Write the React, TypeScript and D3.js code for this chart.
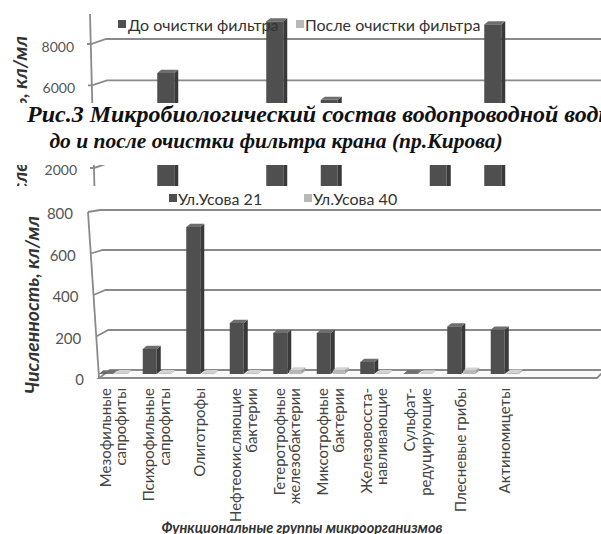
import React from 'react';
import * as d3 from 'd3';

// functional groups of microorganisms (x categories, split into label lines)
const groups = [
  ['Мезофильные', 'сапрофиты'],
  ['Психрофильные', 'сапрофиты'],
  ['Олиготрофы'],
  ['Нефтеокисляющие', 'бактерии'],
  ['Гетеротрофные', 'железобактерии'],
  ['Миксотрофные', 'бактерии'],
  ['Железовосста-', 'навливающие'],
  ['Сульфат-', 'редуцирующие'],
  ['Плесневые грибы'],
  ['Актиномицеты'],
];
const categories = groups.map((g) => g.join(' '));

// main chart: Ул.Усова 21 / Ул.Усова 40, кл/мл
const usova21 = [3, 125, 735, 255, 205, 205, 60, 3, 238, 222];
const usova40 = [4, 4, 4, 4, 18, 18, 4, 3, 16, 6];
const mainTicks = [0, 200, 400, 600, 800];

// chart behind (Рис.3), before / after the tap filter; the 4000 tick is under the caption
const beforeFilter = [400, 6500, 700, 9000, 5200, 600, 3500, 8850, 700, 500];
const afterFilter = [40, 120, 30, 200, 100, 20, 80, 150, 30, 20];
const topTicks = [2000, 6000, 8000];

const SANS = 'Lato, "Open Sans", sans-serif';
const SERIF = '"Liberation Serif", "Times New Roman", serif';
const GRID = '#8a8a8a';
const DARK = { front: '#4f4f4f', top: '#6e6e6e', side: '#393939' };
const LIGHT = { front: '#b8b8b8', top: '#d2d2d2', side: '#a0a0a0' };

type BarProps = {
  x: number;
  w: number;
  yTop: number;
  yBase: number;
  depth: number;
  fills: { front: string; top: string; side: string };
};

const Bar3D = ({ x, w, yTop, yBase, depth, fills }: BarProps) => {
  const dx = depth;
  const dy = depth * 0.8;
  return (
    <g>
      <polygon
        points={`${x + w},${yTop} ${x + w + dx},${yTop - dy} ${x + w + dx},${yBase - dy} ${x + w},${yBase}`}
        fill={fills.side}
      />
      <polygon
        points={`${x},${yTop} ${x + dx},${yTop - dy} ${x + w + dx},${yTop - dy} ${x + w},${yTop}`}
        fill={fills.top}
      />
      <rect x={x} y={yTop} width={w} height={Math.max(0.5, yBase - yTop)} fill={fills.front} />
    </g>
  );
};

const TopChart = () => {
  const yBack = d3.scaleLinear().domain([0, 8000]).range([204.3, 39]);
  const yBar = (v: number) => yBack(v) + 3;
  const xWall = d3.scaleLinear().domain([0, 10000]).range([95, 90]);
  const x = d3.scaleBand().domain(categories).range([90, 635]);
  const bw = x.bandwidth();

  return (
    <g>
      <line x1={90} y1={14} x2={95} y2={209} stroke={GRID} strokeWidth={1.8} />
      {topTicks.map((t) => {
        const xf = xWall(t);
        const yf = yBack(t) + 5;
        return (
          <g key={t}>
            <path
              d={`M${xf - 4},${yf} L${xf},${yf} L${xf + 15},${yBack(t)} L601,${yBack(t)}`}
              fill="none"
              stroke={GRID}
              strokeWidth={1.8}
            />
            <text
              x={xf - 17}
              y={yf + 2}
              textAnchor="end"
              dominantBaseline="central"
              fontFamily={SANS}
              fontSize={14}
              fill="#555"
            >
              {t}
            </text>
          </g>
        );
      })}
      {categories.map((c, i) => {
        const cx = (x(c) as number) + bw / 2;
        return (
          <g key={c}>
            <Bar3D x={cx - 14.5} w={17} yTop={yBar(beforeFilter[i])} yBase={yBar(0)} depth={4} fills={DARK} />
            <Bar3D x={cx + 4} w={15} yTop={yBar(afterFilter[i])} yBase={yBar(0)} depth={4} fills={LIGHT} />
          </g>
        );
      })}
      <text
        transform="translate(19,125) rotate(-90)"
        textAnchor="middle"
        dominantBaseline="central"
        fontFamily={SANS}
        fontSize={19.5}
        fontWeight="bold"
        fontStyle="italic"
        fill="#333"
      >
        Численность, кл/мл
      </text>
      <rect x={118} y={20} width={8} height={8} fill={DARK.front} />
      <text x={128} y={24} dominantBaseline="central" fontFamily={SANS} fontSize={16} fill="#333">
        До очистки фильтра
      </text>
      <rect x={296} y={20} width={8} height={8} fill={LIGHT.front} />
      <text x={305} y={24} dominantBaseline="central" fontFamily={SANS} fontSize={16} fill="#333">
        После очистки фильтра
      </text>
    </g>
  );
};

const Caption = () => (
  <g>
    <rect x={0} y={103} width={601} height={62} fill="#fff" />
    <text x={27} y={122} fontFamily={SERIF} fontSize={24} fontWeight="bold" fontStyle="italic" fill="#111">
      Рис.3 Микробиологический состав водопроводной воды
    </text>
    <text x={276} y={148} textAnchor="middle" fontFamily={SERIF} fontSize={21.5} fontWeight="bold" fontStyle="italic" fill="#111">
      до и после очистки фильтра крана (пр.Кирова)
    </text>
  </g>
);

const MainChart = () => {
  const yBack = d3.scaleLinear().domain([0, 800]).range([370, 210]);
  const yFront = d3.scaleLinear().domain([0, 800]).range([378, 212]);
  const yBar = d3.scaleLinear().domain([0, 800]).range([374, 214]);
  const xWall = d3.scaleLinear().domain([0, 800]).range([99, 88]);
  const x = d3.scaleBand().domain(categories).range([90.5, 525.5]);
  const bw = x.bandwidth();

  return (
    <g>
      <rect x={0} y={186} width={601} height={348} fill="#fff" />
      {/* legend */}
      <rect x={169} y={194} width={8} height={8} fill={DARK.front} />
      <text x={178} y={198} dominantBaseline="central" fontFamily={SANS} fontSize={16} fill="#333">
        Ул.Усова 21
      </text>
      <rect x={304} y={194} width={8} height={8} fill={LIGHT.front} />
      <text x={313} y={198} dominantBaseline="central" fontFamily={SANS} fontSize={16} fill="#333">
        Ул.Усова 40
      </text>

      {/* walls and floor */}
      <line x1={xWall(800)} y1={yFront(800)} x2={xWall(0)} y2={yFront(0)} stroke={GRID} strokeWidth={1.8} />
      <polygon
        points={`${xWall(0)},${yFront(0)} 597,${yFront(0)} 605,${yBack(0)} ${xWall(0) + 11},${yBack(0)}`}
        fill="#fafafa"
        stroke={GRID}
        strokeWidth={1.8}
      />
      {mainTicks.map((t) => {
        const xf = xWall(t);
        const yf = yFront(t);
        return (
          <g key={t}>
            {t > 0 && (
              <path
                d={`M${xf},${yf} L${xf + 12},${yBack(t)} L601,${yBack(t)}`}
                fill="none"
                stroke={GRID}
                strokeWidth={1.8}
              />
            )}
            <text
              x={xf - 15}
              y={yf + 1}
              textAnchor="end"
              dominantBaseline="central"
              fontFamily={SANS}
              fontSize={15}
              fill="#555"
            >
              {t}
            </text>
          </g>
        );
      })}

      {/* bars */}
      {categories.map((c, i) => {
        const cx = (x(c) as number) + bw / 2;
        return (
          <g key={c}>
            <Bar3D x={cx - 13} w={14} yTop={yBar(usova21[i])} yBase={yBar(0)} depth={4} fills={DARK} />
            <Bar3D x={cx + 3} w={12} yTop={yBar(usova40[i])} yBase={yBar(0)} depth={4} fills={LIGHT} />
          </g>
        );
      })}

      {/* category labels */}
      {groups.map((lines, i) => {
        const cx = (x(categories[i]) as number) + bw / 2;
        return lines.map((line, j) => {
          const lx = cx + (j - (lines.length - 1) / 2) * 15.5;
          return (
            <text
              key={`${i}-${j}`}
              transform={`translate(${lx},388) rotate(-90)`}
              textAnchor="end"
              dominantBaseline="central"
              fontFamily={SANS}
              fontSize={15}
              fill="#444"
            >
              {line}
            </text>
          );
        });
      })}

      <text
        transform="translate(31,305) rotate(-90)"
        textAnchor="middle"
        dominantBaseline="central"
        fontFamily={SANS}
        fontSize={19.5}
        fontWeight="bold"
        fontStyle="italic"
        fill="#333"
      >
        Численность, кл/мл
      </text>
      <text
        x={302}
        y={527}
        textAnchor="middle"
        dominantBaseline="central"
        fontFamily={SANS}
        fontSize={14.5}
        fontWeight="bold"
        fontStyle="italic"
        fill="#333"
      >
        Функциональные группы микроорганизмов
      </text>
    </g>
  );
};

const App = () => (
  <svg
    width={601}
    height={534}
    style={{ position: 'absolute', left: 0, top: 0, background: '#fff' }}
  >
    <TopChart />
    <Caption />
    <MainChart />
  </svg>
);

export default App;
